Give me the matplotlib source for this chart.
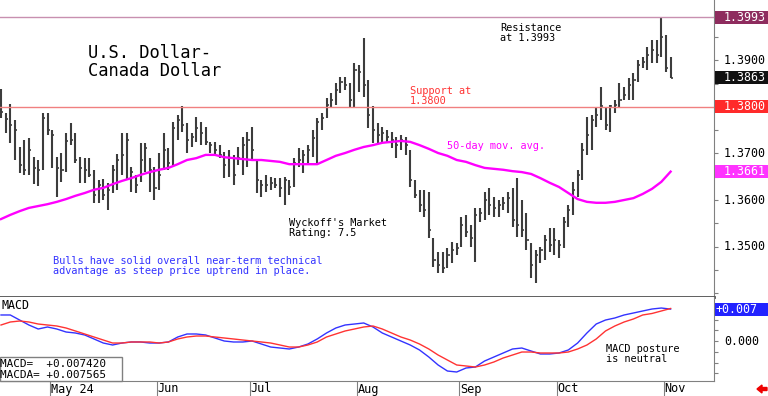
import numpy as np
import pandas as pd
import matplotlib
matplotlib.use('Agg')
import matplotlib.pyplot as plt
from matplotlib.patches import Rectangle, FancyArrow
from matplotlib import transforms

# daily bars, 16 Apr 2024 .. 4 Nov 2024 (weekdays)
highs = [1.3839, 1.3787, 1.3806, 1.3772, 1.3714, 1.3729, 1.3733, 1.3692, 1.3686, 1.3787,
         1.3787, 1.3750, 1.3692, 1.3701, 1.3744, 1.3766, 1.3744, 1.3692, 1.3690, 1.3690,
         1.3664, 1.3643, 1.3645, 1.3637, 1.3675, 1.3699, 1.3744, 1.3744, 1.3671, 1.3654,
         1.3723, 1.3723, 1.3690, 1.3671, 1.3701, 1.3744, 1.3712, 1.3768, 1.3783, 1.3803,
         1.3766, 1.3744, 1.3778, 1.3768, 1.3757, 1.3725, 1.3725, 1.3718, 1.3703, 1.3707,
         1.3697, 1.3714, 1.3735, 1.3746, 1.3757, 1.3686, 1.3643, 1.3654, 1.3649, 1.3647,
         1.3647, 1.3649, 1.3643, 1.3690, 1.3712, 1.3707, 1.3718, 1.3750, 1.3776, 1.3787,
         1.3819, 1.3830, 1.3852, 1.3864, 1.3864, 1.3852, 1.3895, 1.3890, 1.3948, 1.3858,
         1.3803, 1.3766, 1.3757, 1.3750, 1.3746, 1.3735, 1.3740, 1.3735, 1.3707, 1.3643,
         1.3622, 1.3622, 1.3617, 1.3518, 1.3488, 1.3488, 1.3497, 1.3510, 1.3508, 1.3563,
         1.3568, 1.3546, 1.3583, 1.3583, 1.3617, 1.3626, 1.3606, 1.3600, 1.3606, 1.3617,
         1.3626, 1.3647, 1.3600, 1.3572, 1.3508, 1.3493, 1.3499, 1.3525, 1.3540, 1.3540,
         1.3514, 1.3563, 1.3589, 1.3639, 1.3664, 1.3723, 1.3778, 1.3783, 1.3798, 1.3843,
         1.3800, 1.3804, 1.3815, 1.3852, 1.3843, 1.3862, 1.3873, 1.3901, 1.3907, 1.3929,
         1.3944, 1.3944, 1.3993, 1.3955, 1.3907]
lows = [1.3776, 1.3744, 1.3723, 1.3686, 1.3658, 1.3654, 1.3654, 1.3634, 1.3630, 1.3664,
        1.3740, 1.3669, 1.3606, 1.3639, 1.3660, 1.3718, 1.3680, 1.3637, 1.3637, 1.3649,
        1.3594, 1.3594, 1.3600, 1.3578, 1.3615, 1.3622, 1.3654, 1.3643, 1.3617, 1.3615,
        1.3639, 1.3660, 1.3617, 1.3600, 1.3622, 1.3664, 1.3664, 1.3671, 1.3729, 1.3746,
        1.3701, 1.3714, 1.3725, 1.3718, 1.3718, 1.3701, 1.3697, 1.3690, 1.3647, 1.3649,
        1.3632, 1.3675, 1.3654, 1.3671, 1.3686, 1.3615, 1.3606, 1.3617, 1.3622, 1.3626,
        1.3606, 1.3589, 1.3611, 1.3628, 1.3671, 1.3658, 1.3680, 1.3692, 1.3680, 1.3750,
        1.3776, 1.3798, 1.3804, 1.3830, 1.3837, 1.3798, 1.3798, 1.3832, 1.3821, 1.3755,
        1.3723, 1.3723, 1.3723, 1.3723, 1.3712, 1.3690, 1.3707, 1.3697, 1.3628, 1.3604,
        1.3574, 1.3563, 1.3518, 1.3456, 1.3443, 1.3443, 1.3454, 1.3465, 1.3482, 1.3499,
        1.3520, 1.3499, 1.3467, 1.3553, 1.3557, 1.3568, 1.3563, 1.3563, 1.3578, 1.3572,
        1.3542, 1.3520, 1.3520, 1.3493, 1.3432, 1.3422, 1.3465, 1.3471, 1.3488, 1.3482,
        1.3475, 1.3497, 1.3542, 1.3568, 1.3606, 1.3643, 1.3697, 1.3707, 1.3757, 1.3772,
        1.3750, 1.3746, 1.3787, 1.3800, 1.3815, 1.3815, 1.3815, 1.3854, 1.3884, 1.3880,
        1.3895, 1.3895, 1.3907, 1.3875, 1.3862]
closes = [1.3789, 1.3774, 1.3761, 1.3750, 1.3675, 1.3664, 1.3707, 1.3669, 1.3664, 1.3776,
          1.3750, 1.3740, 1.3669, 1.3664, 1.3727, 1.3729, 1.3686, 1.3669, 1.3664, 1.3654,
          1.3611, 1.3632, 1.3611, 1.3622, 1.3664, 1.3686, 1.3697, 1.3729, 1.3660, 1.3632,
          1.3686, 1.3712, 1.3664, 1.3626, 1.3654, 1.3707, 1.3680, 1.3755, 1.3772, 1.3761,
          1.3729, 1.3735, 1.3755, 1.3744, 1.3725, 1.3718, 1.3707, 1.3697, 1.3675, 1.3690,
          1.3654, 1.3690, 1.3718, 1.3729, 1.3707, 1.3643, 1.3632, 1.3632, 1.3637, 1.3632,
          1.3626, 1.3643, 1.3628, 1.3680, 1.3686, 1.3697, 1.3707, 1.3733, 1.3768, 1.3776,
          1.3804, 1.3815, 1.3837, 1.3854, 1.3847, 1.3815, 1.3880, 1.3875, 1.3847, 1.3783,
          1.3750, 1.3740, 1.3744, 1.3735, 1.3729, 1.3718, 1.3729, 1.3718, 1.3643, 1.3611,
          1.3589, 1.3578, 1.3536, 1.3471, 1.3460, 1.3454, 1.3482, 1.3493, 1.3497, 1.3546,
          1.3531, 1.3518, 1.3568, 1.3572, 1.3600, 1.3589, 1.3583, 1.3589, 1.3594, 1.3604,
          1.3557, 1.3546, 1.3536, 1.3514, 1.3460, 1.3482, 1.3493, 1.3514, 1.3503, 1.3514,
          1.3503, 1.3553, 1.3578, 1.3622, 1.3654, 1.3707, 1.3740, 1.3772, 1.3783, 1.3803,
          1.3761, 1.3803, 1.3804, 1.3815, 1.3826, 1.3847, 1.3858, 1.3890, 1.3897, 1.3912,
          1.3923, 1.3912, 1.3950, 1.3884, 1.3863]

# 50-day moving average, read every second bar
ma50 = [1.3559, 1.3568, 1.3576, 1.3583, 1.3587, 1.3591, 1.3596, 1.3602, 1.3609, 1.3615,
        1.3622, 1.3626, 1.3634, 1.3641, 1.3647, 1.3654, 1.3660, 1.3665, 1.3669, 1.3677,
        1.3686, 1.3690, 1.3697, 1.3697, 1.3692, 1.3690, 1.3688, 1.3686, 1.3686, 1.3684,
        1.3682, 1.3677, 1.3677, 1.3677, 1.3677, 1.3686, 1.3695, 1.3701, 1.3708, 1.3714,
        1.3718, 1.3723, 1.3725, 1.3727, 1.3725, 1.3718, 1.3710, 1.3701, 1.3695, 1.3686,
        1.3682, 1.3675, 1.3669, 1.3667, 1.3665, 1.3662, 1.3660, 1.3656, 1.3647, 1.3637,
        1.3628, 1.3615, 1.3602, 1.3596, 1.3594, 1.3594, 1.3596, 1.3600, 1.3604, 1.3613,
        1.3624, 1.3639, 1.3661]

# MACD and its average (x 1000), read every second bar
macd = [6.05, 6.05, 4.88, 3.72, 2.79, 3.26, 2.79, 2.09, 1.86, 1.40,
        0.47, -0.47, -0.93, -0.47, -0.23, -0.23, -0.47, -0.47, -0.23, 0.93,
        1.63, 1.63, 1.40, 0.70, 0.00, -0.23, -0.23, 0.00, -0.70, -1.40,
        -1.63, -1.86, -1.40, -0.70, 0.47, 1.86, 3.02, 3.72, 3.95, 4.19,
        3.26, 1.86, 0.93, 0.00, -0.93, -2.09, -3.72, -5.58, -6.98, -7.21,
        -6.28, -6.05, -4.65, -3.72, -2.79, -1.86, -1.63, -2.33, -3.02, -3.02,
        -2.79, -2.09, -0.47, 1.86, 3.95, 4.88, 5.35, 6.05, 6.51, 6.98,
        7.44, 7.67, 7.42]
macda = [3.72, 4.42, 4.65, 4.42, 3.95, 3.72, 3.49, 3.02, 2.33, 1.63,
         0.93, 0.23, -0.47, -0.47, -0.23, -0.23, -0.23, -0.47, -0.23, 0.47,
         0.93, 1.16, 1.16, 0.93, 0.70, 0.47, 0.23, 0.00, -0.23, -0.47,
         -0.93, -1.40, -1.40, -0.93, -0.23, 0.93, 1.63, 2.33, 2.79, 3.26,
         3.49, 2.79, 1.86, 0.93, 0.23, -0.70, -1.86, -3.26, -4.42, -5.58,
         -5.81, -6.05, -5.58, -4.88, -3.95, -3.26, -2.56, -2.56, -2.79, -2.79,
         -2.79, -2.56, -1.86, -0.93, 0.47, 2.33, 3.49, 4.42, 5.12, 6.05,
         6.40, 6.98, 7.565]

resistance = 1.3993
support = 1.3800
price_labels = [1.3500, 1.3600, 1.3700, 1.3900]

W, H = 768, 396
MONO = 'DejaVu Sans Mono'
BAR = '#3c3c3c'
GREY = '#808080'


def fx(px):
    return px / W


def fy(py):
    return 1 - py / H


fig = plt.figure(figsize=(W / 100, H / 100), dpi=100)
ax = fig.add_axes([0, fy(297), fx(714), 297 / H])
mx = fig.add_axes([0, fy(381), fx(714), 84 / H])

n = len(closes)
x = np.arange(n)
x2 = np.arange(0, n, 2)
dates = pd.bdate_range('2024-04-16', periods=n)

# price panel
ax.vlines(x, lows, highs, color=BAR, lw=1.5)
ax.hlines(closes, x, x + 0.45, color=BAR, lw=1.2)
ax.plot(x2, ma50, color='#ff00ff', lw=1.7)
ax.axhline(resistance, color='#c890b0', lw=1)
ax.axhline(support, color='#f08080', lw=1)
ax.set_xlim(-0.215, 153.33)
ax.set_ylim(1.339145, 1.4030)
ax.set_xticks([])
ax.yaxis.tick_right()
ax.set_yticks(np.arange(1.340, 1.4026, 0.005))
ax.tick_params(axis='y', length=3, color=GREY, labelright=False)
for s in ['left', 'top']:
    ax.spines[s].set_visible(False)
ax.spines['right'].set_color(GREY)
ax.spines['bottom'].set_color('#505050')
ax.spines['bottom'].set_linewidth(2)

# MACD panel
mx.plot(x2, np.array(macd) / 1000, color='#3333ff', lw=1)
mx.plot(x2, np.array(macda) / 1000, color='#ff3333', lw=1)
mx.set_xlim(-0.215, 153.33)
mx.set_ylim(-9.302e-3, 10.233e-3)
mx.yaxis.tick_right()
mx.set_yticks([-0.0075, -0.005, -0.0025, 0, 0.0025, 0.005, 0.0075])
mx.tick_params(axis='y', length=3, color=GREY, labelright=False)
for s in ['left', 'top']:
    mx.spines[s].set_visible(False)
mx.spines['right'].set_color(GREY)
mx.spines['bottom'].set_color(GREY)

month_pos = []
month_txt = []
for i in range(1, n):
    if dates[i].month != dates[i - 1].month:
        month_pos.append(i - 0.5)
        month_txt.append('May 24' if dates[i].month == 5 else dates[i].strftime('%b'))
mx.set_xticks(month_pos)
mx.tick_params(axis='x', length=10.8, direction='out', color=GREY, labelbottom=False)
date_tr = transforms.blended_transform_factory(mx.transData, fig.transFigure)
for p, t in zip(month_pos, month_txt):
    mx.text(p + 0.2, fy(389), t, transform=date_tr, fontsize=8.6, family=MONO,
            va='center', ha='left')

# right-hand scale
for v in price_labels:
    yd = ax.transData.transform((0, v))[1]
    fig.text(fx(724), yd / H, f'{v:.4f}', fontsize=8.4, family=MONO, va='center')
yd = mx.transData.transform((0, 0))[1]
fig.text(fx(724), yd / H, '0.000', fontsize=8.4, family=MONO, va='center')


def tag(axis, val, txt, bg, tx=724):
    yd = axis.transData.transform((0, val))[1] / H
    fig.add_artist(Rectangle((fx(715), yd - 6.5 / H), fx(53), 13 / H,
                             transform=fig.transFigure, facecolor=bg, edgecolor='none'))
    fig.text(fx(tx), yd, txt, color='white', fontsize=8.4, family=MONO, va='center')


tag(ax, resistance, '1.3993', '#8e2c5e')
tag(ax, closes[-1], '1.3863', '#111111')
tag(ax, support, '1.3800', '#ff2a2a')
tag(ax, ma50[-1], '1.3661', '#ff33ff')
tag(mx, macd[-1] / 1000, '+0.007', '#2222ff', tx=716)

# annotations
fig.text(fx(88), fy(58), 'U.S. Dollar-', fontsize=12.3, family=MONO, va='baseline')
fig.text(fx(88), fy(76), 'Canada Dollar', fontsize=12.3, family=MONO, va='baseline')
small = dict(fontsize=7.4, family=MONO, va='baseline')
fig.text(fx(500), fy(31), 'Resistance', **small)
fig.text(fx(500), fy(41), 'at 1.3993', **small)
fig.text(fx(410), fy(94), 'Support at', color='#ff3333', **small)
fig.text(fx(410), fy(104), '1.3800', color='#ff3333', **small)
fig.text(fx(447), fy(149), '50-day mov. avg.', color='#ff00ff', **small)
fig.text(fx(289), fy(226), "Wyckoff's Market", **small)
fig.text(fx(289), fy(236), 'Rating: 7.5', **small)
fig.text(fx(53), fy(264), 'Bulls have solid overall near-term technical', color='#3333ff', **small)
fig.text(fx(53), fy(274), 'advantage as steep price uptrend in place.', color='#3333ff', **small)
fig.text(fx(606), fy(352), 'MACD posture', **small)
fig.text(fx(606), fy(362), 'is neutral', **small)
fig.text(fx(1), fy(309), 'MACD', fontsize=8.4, family=MONO, va='baseline')

fig.add_artist(Rectangle((0, fy(381)), fx(122), 24 / H, transform=fig.transFigure,
                         facecolor='white', edgecolor=GREY, lw=1))
fig.text(0, fy(367), 'MACD=  +0.007420', fontsize=7.9, family=MONO, va='baseline')
fig.text(0, fy(378), 'MACDA= +0.007565', fontsize=7.9, family=MONO, va='baseline')

fig.add_artist(FancyArrow(fx(767), fy(389), -fx(10), 0, width=3 / H, head_width=8 / H,
                          head_length=fx(5), length_includes_head=True,
                          transform=fig.transFigure, color='#ee0000'))

fig.savefig('out.png', dpi=100)
